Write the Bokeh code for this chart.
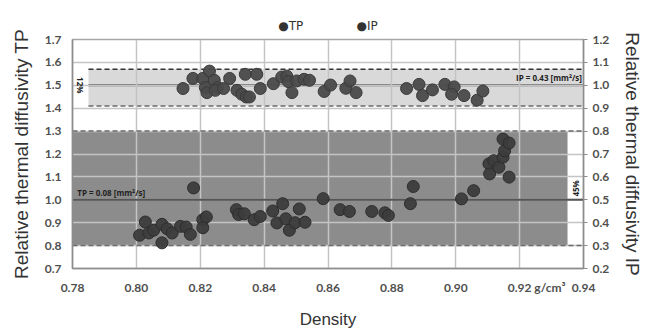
from bokeh.plotting import figure
from bokeh.models import (Range1d, LinearAxis, FixedTicker, Span, Label, Title)
from bokeh.embed import file_html
from bokeh.resources import INLINE

# ---------------- data ----------------
tp_density = [0.8010, 0.8028, 0.8039, 0.8054, 0.8080, 0.8080, 0.8096, 0.8112,
              0.8138, 0.8156, 0.8169, 0.8179, 0.8208, 0.8219, 0.8208, 0.8313,
              0.8320, 0.8338, 0.8369, 0.8388, 0.8427, 0.8458, 0.8440, 0.8468,
              0.8479, 0.8497, 0.8510, 0.8528, 0.8585, 0.8638, 0.8667, 0.8737,
              0.8778, 0.8789, 0.8858, 0.8867, 0.9018, 0.9056, 0.9104, 0.9106,
              0.9119, 0.9135, 0.9148, 0.9153, 0.9148, 0.9167, 0.9167]
tp_values = [0.845, 0.903, 0.855, 0.867, 0.893, 0.812, 0.874, 0.855,
             0.884, 0.881, 0.849, 1.052, 0.913, 0.925, 0.878, 0.957,
             0.936, 0.939, 0.913, 0.927, 0.951, 0.983, 0.899, 0.917,
             0.867, 0.900, 0.960, 0.902, 1.005, 0.957, 0.949, 0.949,
             0.943, 0.932, 0.983, 1.058, 1.004, 1.040, 1.157, 1.113,
             1.171, 1.142, 1.186, 1.214, 1.265, 1.248, 1.099]

ip_density = [0.8146, 0.8177, 0.8208, 0.8229, 0.8216, 0.8221, 0.8244, 0.8254,
              0.8247, 0.8273, 0.8292, 0.8315, 0.8330, 0.8344, 0.8354, 0.8341,
              0.8377, 0.8388, 0.8429, 0.8455, 0.8471, 0.8476, 0.8487, 0.8502,
              0.8525, 0.8542, 0.8588, 0.8608, 0.8656, 0.8669, 0.8688, 0.8846,
              0.8885, 0.8896, 0.8927, 0.8966, 0.8995, 0.8987, 0.9026, 0.9067,
              0.9085]
ip_values = [0.986, 1.030, 1.030, 1.062, 0.990, 0.968, 1.022, 0.990,
             0.978, 0.986, 1.030, 0.978, 0.961, 0.949, 0.949, 1.048,
             1.048, 0.986, 1.007, 1.036, 1.040, 1.016, 0.968, 1.019,
             1.026, 1.022, 0.973, 1.001, 0.987, 1.019, 0.968, 0.986,
             1.004, 0.955, 0.980, 1.004, 0.993, 0.961, 0.955, 0.935,
             0.975]

x_ticks = [0.78, 0.80, 0.82, 0.84, 0.86, 0.88, 0.90, 0.92, 0.94]
x_tick_labels = ["0.78", "0.80", "0.82", "0.84", "0.86", "0.88", "0.90", "0.92", "0.94"]
unit_tick = 0.9295
unit_label = "g/cm³"
tp_ticks = [0.7, 0.8, 0.9, 1.0, 1.1, 1.2, 1.3, 1.4, 1.5, 1.6, 1.7]
ip_ticks = [0.2, 0.3, 0.4, 0.5, 0.6, 0.7, 0.8, 0.9, 1.0, 1.1, 1.2]
series_names = ["TP", "IP"]

tp_mean = 1.0
tp_band_low, tp_band_high = 0.8, 1.3
tp_band_left, tp_band_right = 0.78, 0.935
ip_mean = 1.0
ip_band_low, ip_band_high = 0.91, 1.07
ip_band_left, ip_band_right = 0.785, 0.94

tp_text = "TP = 0.08 [mm²/s]"
ip_text = "IP = 0.43 [mm²/s]"
tp_pct = "45%"
ip_pct = "12%"

# ---------------- figure ----------------
p = figure(width=655, height=331, output_backend="svg", toolbar_location=None,
           x_range=Range1d(0.78, 0.94), y_range=Range1d(0.7, 1.7),
           min_border_left=72, min_border_right=72, min_border_top=39,
           min_border_bottom=58)
p.extra_y_ranges = {"ip": Range1d(0.2, 1.2)}
p.outline_line_color = "#a6a6a6"
p.outline_line_width = 1.5
p.background_fill_color = "white"
p.border_fill_color = "white"

# bands (drawn below grid)
p.quad(left=[tp_band_left], right=[tp_band_right], bottom=[tp_band_low],
       top=[tp_band_high], fill_color="#8c8c8c", line_color=None, level="image")
p.quad(left=[ip_band_left], right=[ip_band_right], bottom=[ip_band_low],
       top=[ip_band_high], fill_color="#d9d9d9", line_color=None,
       y_range_name="ip", level="image")

# grid
p.xgrid.ticker = FixedTicker(ticks=x_ticks)
p.ygrid.ticker = FixedTicker(ticks=tp_ticks)
for g in (p.xgrid, p.ygrid):
    g.grid_line_color = "#c4c4c4"
    g.grid_line_width = 1.5

# band lines
p.add_layout(Span(location=tp_band_high, dimension="width", line_color="#6a6a6a",
                  line_dash="5 3", line_width=1.5, level="underlay"))
p.add_layout(Span(location=tp_band_low, dimension="width", line_color="#6a6a6a",
                  line_dash="5 3", line_width=1.5, level="underlay"))
p.add_layout(Span(location=tp_mean, dimension="width", line_color="#555555",
                  line_width=2, level="underlay"))
p.segment(x0=[ip_band_left] * 2, x1=[ip_band_right] * 2,
          y0=[ip_band_high, ip_band_low],
          y1=[ip_band_high, ip_band_low],
          line_color=["#333333", "#6a6a6a"],
          line_dash="5 3", line_width=1.5, y_range_name="ip", level="underlay")
p.segment(x0=[ip_band_left], x1=[ip_band_right], y0=[ip_mean], y1=[ip_mean],
          line_color="#555555", line_width=2, y_range_name="ip", level="underlay")

# points
p.scatter(tp_density, tp_values, size=12, fill_color="#3c3c3c",
          line_color="#2e2e2e", fill_alpha=0.95)
p.scatter(ip_density, ip_values, size=12, fill_color="#4a4a4a",
          line_color="#3a3a3a", fill_alpha=0.95, y_range_name="ip")

# annotations
lab_font = "Open Sans"
p.add_layout(Label(x=tp_band_left + 0.0015, y=tp_mean + 0.008, text=tp_text,
                   text_font=lab_font, text_font_size="8px",
                   text_font_style="bold", text_color="#222222"))
p.add_layout(Label(x=ip_band_right - 0.0005, y=ip_mean + 0.008, text=ip_text,
                   text_align="right", y_range_name="ip",
                   text_font=lab_font, text_font_size="8px",
                   text_font_style="bold", text_color="#222222"))
p.add_layout(Label(x=ip_band_left - 0.0025, y=ip_mean, text=ip_pct,
                   angle=-1.5708, text_align="center", text_baseline="middle",
                   y_range_name="ip",
                   text_font=lab_font, text_font_size="8px",
                   text_font_style="bold", text_color="#222222"))
p.add_layout(Label(x=tp_band_right + 0.0025, y=1.05, text=tp_pct,
                   angle=1.5708, text_align="center", text_baseline="middle",
                   text_font=lab_font, text_font_size="8px",
                   text_font_style="bold", text_color="#222222"))

# axes
p.xaxis.ticker = FixedTicker(ticks=x_ticks + [unit_tick])
overrides = {t: l for t, l in zip(x_ticks, x_tick_labels)}
overrides[unit_tick] = unit_label
p.xaxis.major_label_overrides = overrides
p.xaxis.axis_label = "Density"
p.xaxis.axis_label_standoff = 12

p.yaxis.ticker = FixedTicker(ticks=tp_ticks)
p.yaxis.major_label_overrides = {t: f"{t:.1f}" for t in tp_ticks}
p.yaxis.axis_label = "Relative thermal diffusivity TP"

ip_axis = LinearAxis(y_range_name="ip", ticker=FixedTicker(ticks=ip_ticks),
                     axis_label="Relative thermal diffusivity IP")
ip_axis.major_label_overrides = {t: f"{t:.1f}" for t in ip_ticks}
p.add_layout(ip_axis, "right")

for ax in (p.xaxis[0], p.yaxis[0], ip_axis):
    ax.axis_line_color = "#8c8c8c"
    ax.axis_line_width = 1.5
    ax.minor_tick_line_color = None
    ax.major_label_text_font = "Lato"
    ax.major_label_text_font_size = "12px"
    ax.major_label_text_font_style = "bold"
    ax.major_label_text_color = "#505050"
    ax.axis_label_text_font = "Liberation Sans"
    ax.axis_label_text_font_size = "19px"
    ax.axis_label_text_font_style = "normal"
    ax.axis_label_text_color = "#333333"
p.xaxis.axis_label_text_font_size = "17px"
p.yaxis.axis_label_standoff = 10
ip_axis.axis_label_standoff = 10
p.xaxis.major_tick_line_color = None
p.yaxis.major_tick_line_color = None
ip_axis.major_tick_line_color = "#8c8c8c"
ip_axis.major_tick_in = 0
ip_axis.major_tick_out = 4

# legend drawn as a title line above the frame
gap = "\u00a0" * 14
legend_text = f"\u25cf{series_names[0]}{gap}\u25cf{series_names[1]}"
p.add_layout(Title(text=legend_text, align="center", text_font="DejaVu Sans",
                   text_font_size="12px", text_font_style="normal",
                   text_color="#333333", standoff=14), "above")

open("out.html", "w").write(file_html(p, INLINE))
